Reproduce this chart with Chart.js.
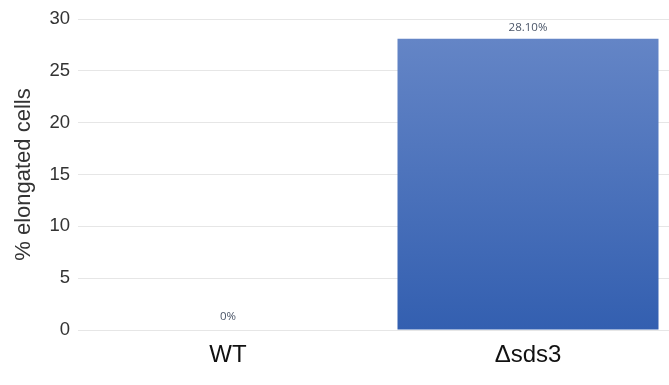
<!DOCTYPE html>
<html><head><meta charset="utf-8">
<script src="https://cdn.jsdelivr.net/npm/chart.js@4/dist/chart.umd.min.js"></script>
<style>html,body{margin:0;padding:0;background:#fff;overflow:hidden;width:669px;height:385px}#w{width:679px;height:385px}</style>
</head><body><div id="w"><canvas id="c"></canvas></div>
<script>
const categories = ['WT', '\u0394sds3'];
const values = [0, 28.1];
const valueLabels = ['0%', '28.10%'];
const yTicks = [0, 5, 10, 15, 20, 25, 30];

const labelPlugin = {
  id: 'vlabels',
  afterDatasetsDraw(chart) {
    const ctx = chart.ctx;
    const meta = chart.getDatasetMeta(0);
    ctx.save();
    ctx.font = '11.5px "Open Sans", Calibri, sans-serif';
    ctx.fillStyle = '#4a5568';
    ctx.textAlign = 'center';
    ctx.textBaseline = 'bottom';
    meta.data.forEach((el, i) => {
      ctx.fillText(valueLabels[i], el.x, el.y - (values[i] === 0 ? 8 : 5));
    });
    ctx.restore();
  }
};

const ctx = document.getElementById('c').getContext('2d');
new Chart(ctx, {
  type: 'bar',
  data: {
    labels: categories,
    datasets: [{
      data: values,
      backgroundColor: (c) => {
        const a = c.chart.chartArea;
        if (!a) return '#4a72bb';
        const y = c.chart.scales.y;
        const g = c.chart.ctx.createLinearGradient(0, y.getPixelForValue(28.1), 0, y.getPixelForValue(0));
        g.addColorStop(0, '#6485c6');
        g.addColorStop(1, '#335fb0');
        return g;
      },
      borderWidth: 0,
      categoryPercentage: 1,
      barPercentage: 0.87
    }]
  },
  options: {
    responsive: true,
    maintainAspectRatio: false,
    animation: false,
    layout: { padding: { top: 16, left: 0, right: 1, bottom: 0 } },
    plugins: { legend: { display: false }, tooltip: { enabled: false } },
    scales: {
      x: {
        grid: { display: false, drawTicks: false },
        border: { display: false },
        ticks: { font: { family: 'Liberation Sans, Arial, sans-serif', size: 24 }, color: '#111', padding: 11 },
        afterFit(s) { s.height = 55; }
      },
      y: {
        min: 0, max: 30,
        afterBuildTicks(s) { s.ticks = yTicks.map(v => ({ value: v })); },
        grid: { color: '#e6e6e6', lineWidth: 1, drawTicks: false },
        border: { display: false },
        ticks: { font: { family: 'Liberation Sans, Arial, sans-serif', size: 18.5 }, color: '#333', padding: 8 },
        title: { display: true, text: '% elongated cells', font: { family: 'Liberation Sans, Arial, sans-serif', size: 22 }, color: '#333', padding: { top: 11, bottom: 0 } },
        afterFit(s) { s.width = 78; }
      }
    }
  },
  plugins: [labelPlugin]
});
</script>
</body></html>
